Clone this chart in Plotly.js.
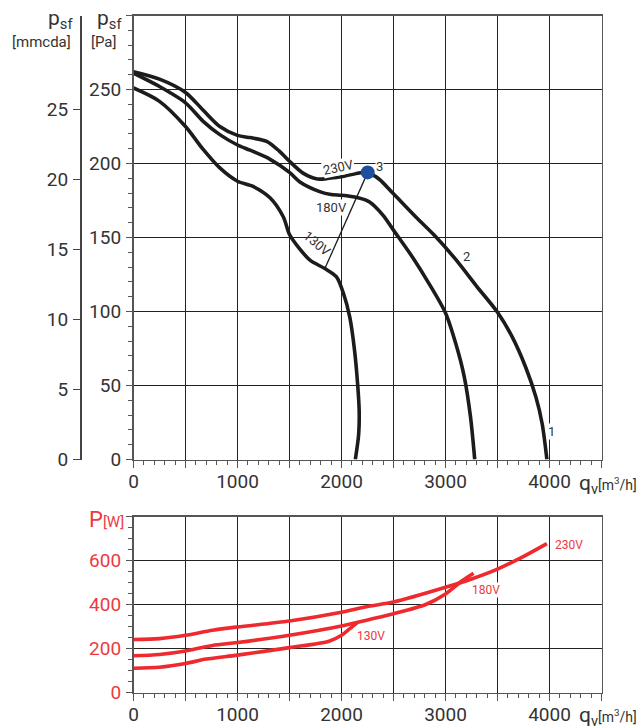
<!DOCTYPE html>
<html><head><meta charset="utf-8">
<script src="https://cdn.plot.ly/plotly-3.0.1.min.js"></script>
<style>html,body{margin:0;padding:0;background:#fff}</style>
</head><body><div id="chart" style="width:644px;height:727px"></div>
<script>
// ---- Pressure curves (q in m3/h, p in Pa) ----
const q230 = [0, 250, 500, 670, 830, 1000, 1120, 1280, 1400, 1500, 1630, 1770, 1880, 2000, 2120, 2252, 2360, 2500, 2720, 2900, 3100, 3300, 3500, 3640, 3770, 3870, 3930, 3975];
const p230 = [262, 257, 248, 236, 225, 219, 217.5, 215, 208.5, 201.5, 193.5, 189.5, 190, 191, 193, 194, 189.5, 179.5, 163.5, 151, 135, 117, 99.5, 83, 62.5, 42, 24, 0];

const q180 = [0, 250, 500, 670, 830, 1000, 1120, 1310, 1500, 1600, 1790, 1900, 2000, 2150, 2270, 2400, 2500, 2680, 2840, 3000, 3100, 3180, 3240, 3281];
const p180 = [261, 252, 241, 228.5, 219.5, 212.5, 209, 203, 194, 187.5, 181, 179, 178.5, 177, 174, 165, 155, 137, 119, 99, 78, 56, 29, 0];

const q130 = [0, 250, 500, 670, 830, 1000, 1150, 1310, 1440, 1500, 1590, 1700, 1840, 1950, 2020, 2080, 2125, 2155, 2170, 2165, 2133];
const p130 = [251, 242, 225, 209.5, 197, 188, 184.5, 177, 164, 152, 143, 134.5, 129, 123.5, 112, 96, 74, 51, 33, 17, 0];

// operating line from point 3 down to the 130V curve
const qOp = [2252, 1840];
const pOp = [194, 129];
const qPoint3 = [2252];
const pPoint3 = [194];

// ---- Power curves (q in m3/h, P in W) ----
const qW230 = [0, 250, 500, 760, 1000, 1500, 2000, 2260, 2500, 3000, 3250, 3500, 3700, 3975];
const w230  = [241, 245, 260, 283, 298, 325, 365, 392, 411, 478, 516, 561, 606, 677];
const qW180 = [0, 250, 500, 760, 1000, 1500, 2000, 2260, 2500, 2810, 3000, 3160, 3270];
const w180  = [167, 173, 189, 214, 227, 260, 302, 331, 358, 400, 448, 508, 542];
const qW130 = [0, 250, 500, 700, 1000, 1500, 1880, 2000, 2080, 2150];
const w130  = [110, 115, 132, 152, 170, 204, 233, 260, 290, 318];

// ---- tick labels ----
const xTickVals = [0, 500, 1000, 1500, 2000, 2500, 3000, 3500, 4000, 4500];
const xTickText = ['0', ' ', '1000', ' ', '2000', ' ', '3000', ' ', '4000', ' '];
const paTickVals = [0, 50, 100, 150, 200, 250, 300];
const paTickText = ['0', '50', '100', '150', '200', '250', ' '];
const mmTickVals = [0, 5, 10, 15, 20, 25];
const wTickVals = [0, 200, 400, 600, 800];
const wTickText = ['0', '200', '400', '600', ' '];

const W = 644, H = 727, L = 10, R = 41, T = 10, B = 30;
const pw = W - L - R, ph = H - T - B;
const px = x => (x - L) / pw;
const py = y => (H - B - y) / ph;

const BLK = '#1c1c1c', RED = '#ee2a2f', REDT = '#ec3a40', GRID = '#222', TXT = '#333';
const FONT = 'Roboto, "DejaVu Sans", sans-serif';

const blackLine = {color: BLK, width: 3.6, shape: 'spline', smoothing: 0.8};
const redLine = {color: RED, width: 3.6, shape: 'spline', smoothing: 0.8};

const traces = [
  {x: q230, y: p230, mode: 'lines', line: blackLine, xaxis: 'x', yaxis: 'y', hoverinfo: 'skip'},
  {x: q180, y: p180, mode: 'lines', line: blackLine, xaxis: 'x', yaxis: 'y', hoverinfo: 'skip'},
  {x: q130, y: p130, mode: 'lines', line: blackLine, xaxis: 'x', yaxis: 'y', hoverinfo: 'skip'},
  {x: qOp, y: pOp, mode: 'lines', line: {color: BLK, width: 1.3}, xaxis: 'x', yaxis: 'y', hoverinfo: 'skip'},
  {x: qPoint3, y: pPoint3, mode: 'markers', marker: {color: '#1d4f9d', size: 14}, xaxis: 'x', yaxis: 'y', hoverinfo: 'skip'},
  // invisible trace so the mmcda axis is drawn
  {x: [0], y: [0], mode: 'markers', marker: {opacity: 0, size: 1}, xaxis: 'x', yaxis: 'y2', hoverinfo: 'skip'},
  {x: qW230, y: w230, mode: 'lines', line: redLine, xaxis: 'x2', yaxis: 'y3', hoverinfo: 'skip'},
  {x: qW180, y: w180, mode: 'lines', line: redLine, xaxis: 'x2', yaxis: 'y3', hoverinfo: 'skip'},
  {x: qW130, y: w130, mode: 'lines', line: redLine, xaxis: 'x2', yaxis: 'y3', hoverinfo: 'skip'}
];

const xDom = [px(133.5), px(601.5)];
const xCommon = {
  range: [0, 4500], tickmode: 'array', tickvals: xTickVals, ticktext: xTickText,
  showgrid: true, gridcolor: GRID, gridwidth: 1, zeroline: false,
  showline: true, linecolor: '#555', linewidth: 1.6, mirror: true,
  ticks: 'outside', ticklen: 7, tickcolor: '#555', tickwidth: 1.3,
  minor: {tickmode: 'linear', tick0: 0, dtick: 100, ticks: 'outside', ticklen: 4, tickcolor: '#555', tickwidth: 1, showgrid: false},
  tickfont: {family: FONT, size: 19, color: TXT}, ticklabelstandoff: -3,
  fixedrange: true
};

const A = (o) => Object.assign({xref: 'paper', yref: 'paper', showarrow: false, xanchor: 'center', yanchor: 'middle'}, o);
const D = (o) => Object.assign({showarrow: false, xanchor: 'center', yanchor: 'middle', borderpad: 0}, o);

const layout = {
  width: W, height: H,
  margin: {l: L, r: R, t: T, b: B},
  paper_bgcolor: '#fff', plot_bgcolor: '#fff',
  showlegend: false,
  xaxis: Object.assign({}, xCommon, {domain: xDom, anchor: 'y'}),
  xaxis2: Object.assign({}, xCommon, {domain: xDom, anchor: 'y3'}),
  yaxis: {
    domain: [py(459.5), py(15.5)], anchor: 'x', range: [0, 300],
    tickmode: 'array', tickvals: paTickVals, ticktext: paTickText,
    showgrid: true, gridcolor: GRID, gridwidth: 1, zeroline: false,
    showline: true, linecolor: '#555', linewidth: 1.6, mirror: true,
    ticks: 'outside', ticklen: 6, tickcolor: '#555', tickwidth: 1.3,
    minor: {tickmode: 'linear', tick0: 0, dtick: 10, ticks: 'outside', ticklen: 4, tickcolor: '#555', tickwidth: 1, showgrid: false},
    tickfont: {family: FONT, size: 19, color: TXT}, ticklabelstandoff: 1,
    fixedrange: true
  },
  yaxis2: {
    overlaying: 'y', anchor: 'free', position: px(80), side: 'left',
    range: [0, 31.714], tickmode: 'array', tickvals: mmTickVals,
    showgrid: false, zeroline: false, showline: true, linecolor: '#444', linewidth: 1.5,
    ticks: 'outside', ticklen: 7, tickcolor: '#444', tickwidth: 1.3,
    tickfont: {family: FONT, size: 19, color: TXT}, ticklabelstandoff: 1,
    fixedrange: true
  },
  yaxis3: {
    domain: [py(692.5), py(516.5)], anchor: 'x2', range: [0, 800],
    tickmode: 'array', tickvals: wTickVals, ticktext: wTickText,
    showgrid: true, gridcolor: GRID, gridwidth: 1, zeroline: false,
    showline: true, linecolor: '#555', linewidth: 1.6, mirror: true,
    ticks: 'outside', ticklen: 6, tickcolor: '#555', tickwidth: 1.3,
    minor: {tickmode: 'linear', tick0: 0, dtick: 50, ticks: 'outside', ticklen: 4, tickcolor: '#555', tickwidth: 1, showgrid: false},
    tickfont: {family: FONT, size: 19, color: REDT}, ticklabelstandoff: 1,
    fixedrange: true
  },
  annotations: [
    // axis titles
    A({x: px(60), y: py(19), text: 'p<sub>sf</sub>', font: {family: FONT, size: 21, color: TXT}}),
    A({x: px(41), y: py(42), text: '[mmcda]', font: {family: FONT, size: 15, color: TXT}}),
    A({x: px(109), y: py(19), text: 'p<sub>sf</sub>', font: {family: FONT, size: 21, color: TXT}}),
    A({x: px(104), y: py(42), text: '[Pa]', font: {family: FONT, size: 15, color: TXT}}),
    A({x: px(577), y: py(484), xanchor: 'left', text: 'q<sub>v</sub><span style="font-size:14px">[m<sup>3</sup>/h]</span>', font: {family: FONT, size: 21, color: TXT}}),
    A({x: px(577), y: py(716), xanchor: 'left', text: 'q<sub>v</sub><span style="font-size:14px">[m<sup>3</sup>/h]</span>', font: {family: FONT, size: 21, color: TXT}}),
    A({x: px(87), y: py(519), xanchor: 'left', text: 'P<span style="font-size:15px">[W]</span>', font: {family: FONT, size: 22, color: REDT}}),
    // curve labels (top)
    D({xref: 'x', yref: 'y', x: 1968, y: 197.5, text: '230V', textangle: -12, bgcolor: '#fff', font: {family: FONT, size: 13, color: TXT}}),
    D({xref: 'x', yref: 'y', x: 2365, y: 198, text: '3', bgcolor: '#fff', font: {family: FONT, size: 13, color: TXT}}),
    D({xref: 'x', yref: 'y', x: 1905, y: 170.5, text: '180V', bgcolor: '#fff', font: {family: FONT, size: 13, color: TXT}}),
    D({xref: 'x', yref: 'y', x: 1765, y: 146, text: '130V', textangle: 40, font: {family: FONT, size: 13, color: TXT}}),
    D({xref: 'x', yref: 'y', x: 3200, y: 137.5, text: '2', bgcolor: '#fff', font: {family: FONT, size: 13, color: TXT}}),
    D({xref: 'x', yref: 'y', x: 4015, y: 19, text: '1', bgcolor: '#fff', font: {family: FONT, size: 13, color: TXT}}),
    // curve labels (bottom)
    D({xref: 'x2', yref: 'y3', x: 4185, y: 672, text: '230V', bgcolor: '#fff', font: {family: FONT, size: 12, color: REDT}}),
    D({xref: 'x2', yref: 'y3', x: 3386, y: 464, text: '180V', bgcolor: '#fff', font: {family: FONT, size: 12, color: REDT}}),
    D({xref: 'x2', yref: 'y3', x: 2284, y: 257, text: '130V', bgcolor: '#fff', font: {family: FONT, size: 12, color: REDT}})
  ]
};

Plotly.newPlot('chart', traces, layout, {displayModeBar: false, staticPlot: true});
</script></body></html>
